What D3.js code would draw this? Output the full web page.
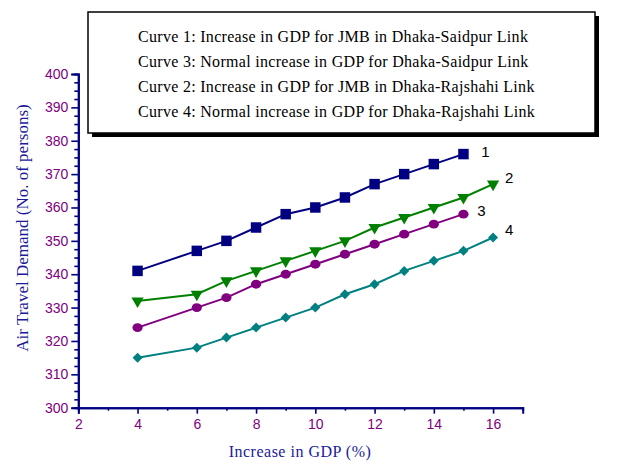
<!DOCTYPE html>
<html>
<head>
<meta charset="utf-8">
<script src="https://cdn.jsdelivr.net/npm/d3@7"></script>
<style>
  body { margin: 0; background: #fff; }
  svg { display: block; }
</style>
</head>
<body>
<div id="chart"></div>
<script>
// ***Data***
var gdp1 = [4, 6, 7, 8, 9, 10, 11, 12, 13, 14, 15];
var curve1 = [341, 347, 350, 354, 358, 360, 363, 367, 370, 373, 376];
var gdp2 = [4, 6, 7, 8, 9, 10, 11, 12, 13, 14, 15, 16];
var curve2 = [332, 334, 338, 341, 344, 347, 350, 354, 357, 360, 363, 367];
var gdp3 = [4, 6, 7, 8, 9, 10, 11, 12, 13, 14, 15];
var curve3 = [324, 330, 333, 337, 340, 343, 346, 349, 352, 355, 358];
var gdp4 = [4, 6, 7, 8, 9, 10, 11, 12, 13, 14, 15, 16];
var curve4 = [315, 318, 321, 324, 327, 330, 334, 337, 341, 344, 347, 351];
var curveNames = ["1", "2", "3", "4"];
var legendLines = [
  "Curve 1: Increase in GDP for JMB in Dhaka-Saidpur Link",
  "Curve 3: Normal increase in GDP for Dhaka-Saidpur Link",
  "Curve 2: Increase in GDP for JMB in Dhaka-Rajshahi Link",
  "Curve 4: Normal increase in GDP for Dhaka-Rajshahi Link"
];
var xTicks = [2, 4, 6, 8, 10, 12, 14, 16];
var yTicks = [300, 310, 320, 330, 340, 350, 360, 370, 380, 390, 400];

function init() {
  var w = 639, h = 461;
  var axisColor = "#000080";
  var tickColor = "#800080";
  var titleColor = "#1a1a9a";
  var serif = "'Liberation Serif', 'Times New Roman', serif";
  var sans = "'Liberation Sans', Arial, sans-serif";

  var xScale = d3.scaleLinear().domain([2, 17]).range([78.3, 522.7]);
  var yScale = d3.scaleLinear().domain([300, 400]).range([407.7, 74]);

  var svg = d3.select("#chart").append("svg")
    .attr("width", w).attr("height", h);

  // axes (minor ticks in their own groups)
  var xAxis = d3.axisBottom(xScale).tickValues(xTicks).tickSize(6).tickPadding(5)
    .tickFormat(d3.format("d"));
  var xMinor = d3.axisBottom(xScale).tickValues(d3.range(3, 18, 2)).tickSize(3).tickFormat("");
  var yAxis = d3.axisLeft(yScale).tickValues(yTicks).tickSize(7).tickPadding(3)
    .tickFormat(d3.format("d"));
  var yMinor = d3.axisLeft(yScale)
    .tickValues(d3.range(302.5, 400, 2.5).filter(function(v){ return v % 10 != 0; }))
    .tickSize(4).tickFormat("");

  svg.append("g").attr("transform", "translate(0," + yScale(300) + ")").call(xMinor);
  svg.append("g").attr("transform", "translate(0," + yScale(300) + ")").call(xAxis);
  svg.append("g").attr("transform", "translate(" + xScale(2) + ",0)").call(yMinor);
  svg.append("g").attr("transform", "translate(" + xScale(2) + ",0)").call(yAxis);

  svg.selectAll(".domain").attr("stroke", axisColor).attr("stroke-width", 2);
  svg.selectAll(".tick line").attr("stroke", axisColor).attr("stroke-width", 1.6);
  svg.selectAll(".tick text")
    .attr("fill", tickColor)
    .style("font-family", sans)
    .style("font-size", "14px");

  // axis titles
  svg.append("text")
    .attr("x", 300).attr("y", 457)
    .attr("text-anchor", "middle")
    .attr("fill", titleColor)
    .style("font-family", serif)
    .style("font-size", "16px")
    .style("letter-spacing", "0.5px")
    .text("Increase in GDP (%)");

  svg.append("text")
    .attr("transform", "translate(28,228) rotate(-90)")
    .attr("text-anchor", "middle")
    .attr("fill", titleColor)
    .style("font-family", serif)
    .style("font-size", "17px")
    .text("Air Travel Demand (No. of persons)");

  // series
  var series = [
    { xs: gdp1, ys: curve1, color: "#000080", sym: d3.symbolSquare, size: 110, rot: 0, lx: 22, ly: -2 },
    { xs: gdp2, ys: curve2, color: "#008000", sym: d3.symbolTriangle, size: 65, rot: 180, lx: 16, ly: -6 },
    { xs: gdp3, ys: curve3, color: "#800080", sym: d3.symbolCircle, size: 62, rot: 0, lx: 18, ly: -3 },
    { xs: gdp4, ys: curve4, color: "#008080", sym: d3.symbolSquare, size: 50, rot: 45, lx: 16, ly: -8 }
  ];

  var line = d3.line()
    .x(function(d) { return xScale(d[0]); })
    .y(function(d) { return yScale(d[1]); });

  series.forEach(function(s, i) {
    var pts = s.xs.map(function(x, j) { return [x, s.ys[j]]; });
    svg.append("path")
      .datum(pts)
      .attr("d", line)
      .attr("fill", "none")
      .attr("stroke", s.color)
      .attr("stroke-width", 2);

    svg.selectAll(".m" + i)
      .data(pts)
      .enter()
      .append("path")
      .attr("class", "m" + i)
      .attr("d", d3.symbol().type(s.sym).size(s.size))
      .attr("transform", function(d) {
        var t = "translate(" + xScale(d[0]) + "," + yScale(d[1]) + ")";
        if (s.rot) t += " rotate(" + s.rot + ")";
        if (s.sym === d3.symbolCircle) t += " scale(1.15,1)";
        return t;
      })
      .attr("fill", s.color);

    var last = pts[pts.length - 1];
    svg.append("text")
      .attr("x", xScale(last[0]) + s.lx)
      .attr("y", yScale(last[1]) + s.ly)
      .attr("dy", "0.35em")
      .attr("text-anchor", "middle")
      .style("font-family", sans)
      .style("font-size", "15px")
      .attr("fill", "#000")
      .text(curveNames[i]);
  });

  // legend box with shadow
  var lg = svg.append("g");
  lg.append("rect")
    .attr("x", 92).attr("y", 16).attr("width", 507).attr("height", 121)
    .attr("fill", "#000");
  lg.append("rect")
    .attr("x", 88).attr("y", 12).attr("width", 507).attr("height", 121)
    .attr("fill", "#fff").attr("stroke", "#000").attr("stroke-width", 1.5);
  lg.selectAll("text")
    .data(legendLines)
    .enter()
    .append("text")
    .attr("x", 138)
    .attr("y", function(d, i) { return 42 + i * 25; })
    .style("font-family", serif)
    .style("font-size", "16px")
    .style("letter-spacing", "0.3px")
    .attr("fill", "#000")
    .text(function(d) { return d; });
}

window.onload = init;
</script>
</body>
</html>
